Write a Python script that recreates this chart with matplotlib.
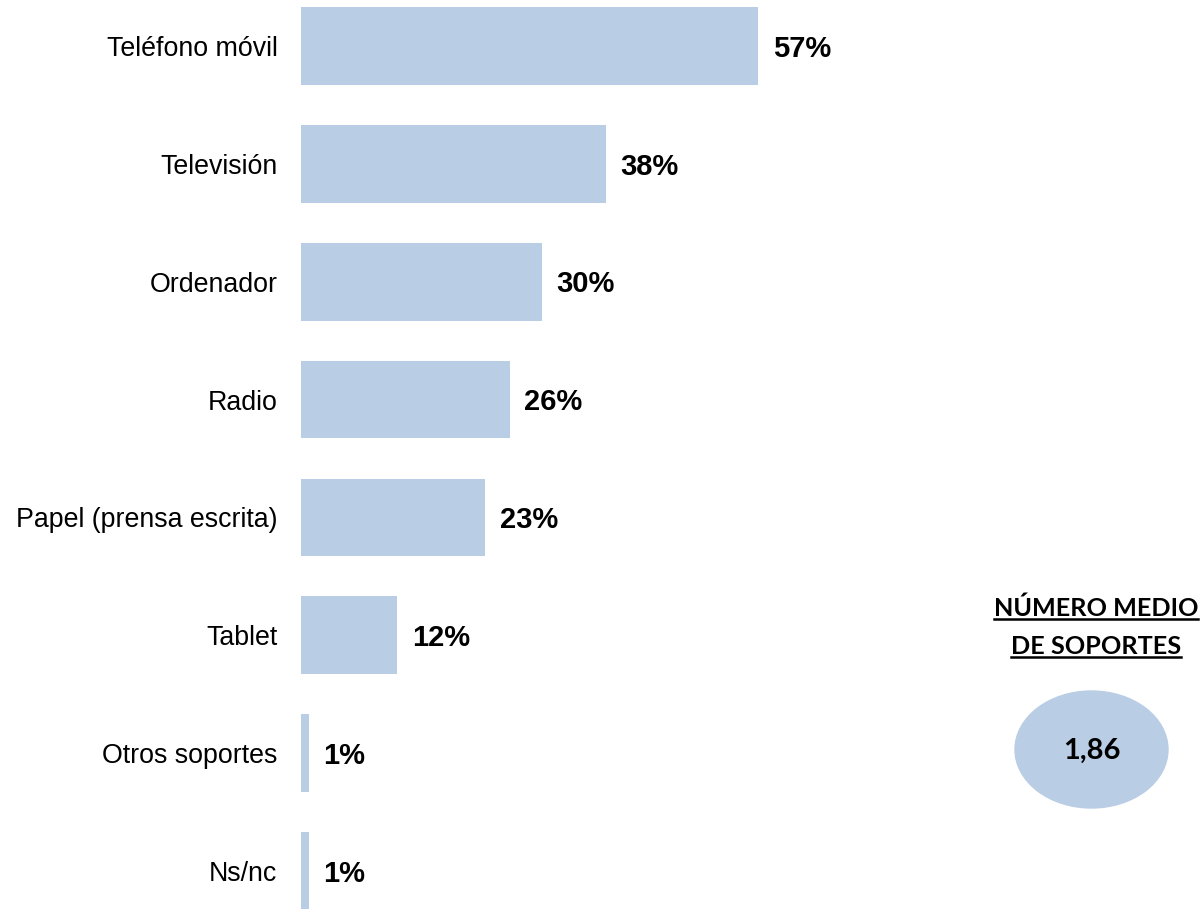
import matplotlib.pyplot as plt
from matplotlib.patches import Ellipse
from matplotlib.lines import Line2D

categories = ['Teléfono móvil', 'Televisión', 'Ordenador', 'Radio',
              'Papel (prensa escrita)', 'Tablet', 'Otros soportes', 'Ns/nc']
values = [57, 38, 30, 26, 23, 12, 1, 1]
media_soportes = '1,86'
media_titulo = ['NÚMERO MEDIO', 'DE SOPORTES']

bar_color = '#B9CDE5'
W, H = 1204, 909

plt.rcParams['font.family'] = ['Liberation Sans', 'DejaVu Sans']

fig = plt.figure(figsize=(W / 100, H / 100), dpi=100)
ax = fig.add_axes([301 / W, 0, (W - 301) / W, 1])

ypos = list(range(len(categories)))
ax.barh(ypos, values, height=0.66, color=bar_color)
ax.set_xlim(0, (W - 301) / 8.02)
ax.set_ylim((H - 46) / 117.86, -46 / 117.86)

ax.set_yticks(ypos)
ax.set_yticklabels(categories, fontsize=19.3)
ax.tick_params(axis='y', length=0, pad=17)
ax.set_xticks([])
for s in ax.spines.values():
    s.set_visible(False)

for y, v in zip(ypos, values):
    ax.annotate(f'{v}%', (v, y), xytext=(10.5, -2), textcoords='offset points',
                ha='left', va='center', fontsize=21, fontweight='bold')

# recuadro del numero medio
ell = Ellipse((1091.5 / W, 1 - 749.5 / H), 153 / W, 117 / H,
              transform=fig.transFigure, color=bar_color)
fig.patches.append(ell)
fig.text(1092 / W, 1 - 751 / H, media_soportes, ha='center', va='center',
         fontsize=21, fontweight='bold', family=['Lato', 'DejaVu Sans'])

titles = []
for i, line in enumerate(media_titulo):
    t = fig.text(1096 / W, 1 - (608 + 38 * i) / H, line, ha='center', va='center',
                 fontsize=18.2, fontweight='bold', family=['Lato', 'DejaVu Sans'])
    titles.append(t)

fig.canvas.draw()
r = fig.canvas.get_renderer()
for t in titles:
    bb = t.get_window_extent(r)
    yl = bb.y0 + 1
    fig.add_artist(Line2D([bb.x0 / W, bb.x1 / W], [yl / H, yl / H],
                          transform=fig.transFigure, color='black', lw=1.8))

fig.savefig('out.png', dpi=100)
